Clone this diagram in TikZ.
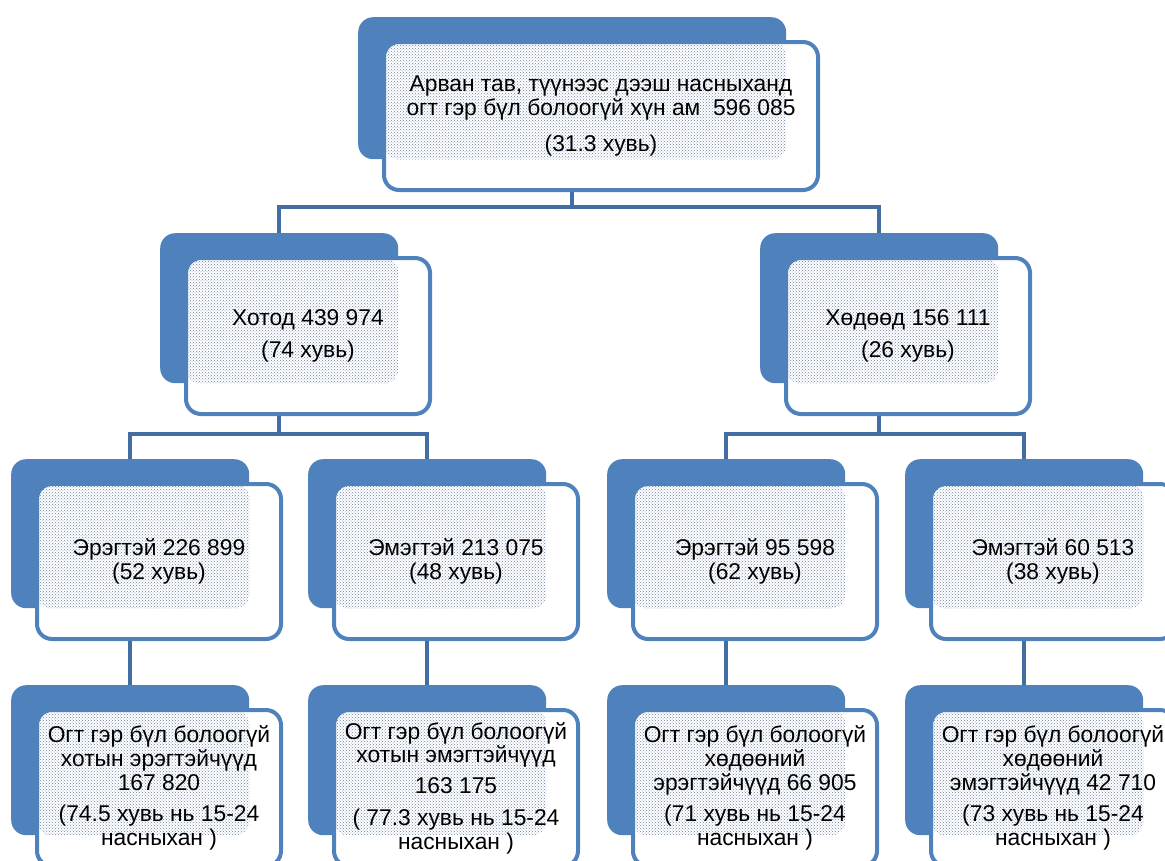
\documentclass[tikz,border=0pt]{standalone}
\usepackage{fontspec}
\setmainfont{Liberation Sans}
\usetikzlibrary{positioning,patterns,backgrounds,calc}

\definecolor{boxblue}{RGB}{79,129,189}
\definecolor{linkblue}{RGB}{66,110,164}
\definecolor{dotgray}{RGB}{112,132,168}

\tikzset{
    backbox/.style={fill=boxblue, rounded corners=15pt, inner sep=0pt, anchor=north west},
    frontbox/.style={draw=boxblue, line width=4pt, fill=white, rounded corners=15pt,
        inner sep=0pt, anchor=north west, align=center, text=black,
        font=\fontsize{22.8}{23.8}\selectfont},
    link/.style={draw=linkblue, line width=4.5pt}
}

\newcommand{\orgbox}[5]{%
    \node [backbox, minimum width={#3*1pt}, minimum height={#4*1pt}] (#1-back) at #2 {};
    \node [frontbox, minimum width={(#3+6)*1pt}, minimum height={(#4+6)*1pt},
        path picture={\fill [pattern=crosshatch dots, pattern color=dotgray, rounded corners=14pt]
            (path picture bounding box.north west) rectangle (#1-back.south east);}]
        (#1) at ($(#1-back.north west)+(24,23)$) {#5};
}

\begin{document}
\begin{tikzpicture}[x=1pt, y=-1pt]
    \useasboundingbox (0,0) rectangle (1165,860);
    \clip (0,0) rectangle (1165,860);

    \orgbox{top}{(358,17)}{428}{142}{Арван тав, түүнээс дээш насныханд\\огт гэр бүл болоогүй хүн ам\ \ 596 085\\[12pt](31.3 хувь)}

    \orgbox{city}{(160,233)}{238}{150}{Хотод 439 974\\[8pt](74 хувь)}
    \orgbox{rural}{(760,233)}{238}{150}{Хөдөөд 156 111\\[8pt](26 хувь)}

    \orgbox{cm}{(11,459)}{238}{149}{Эрэгтэй 226 899\\(52 хувь)}
    \orgbox{cf}{(308,459)}{238}{149}{Эмэгтэй 213 075\\(48 хувь)}
    \orgbox{rm}{(607,459)}{238}{149}{Эрэгтэй 95 598\\(62 хувь)}
    \orgbox{rf}{(905,459)}{238}{149}{Эмэгтэй 60 513\\(38 хувь)}

    \orgbox{cmo}{(11,685)}{238}{150}{Огт гэр бүл болоогүй\\хотын эрэгтэйчүүд\\167 820\\[8pt](74.5 хувь нь 15-24\\насныхан )}
    \orgbox{cfo}{(308,685)}{238}{150}{Огт гэр бүл болоогүй\\хотын эмэгтэйчүүд\\[7pt]163 175\\[8pt]( 77.3 хувь нь 15-24\\насныхан )}
    \orgbox{rmo}{(607,685)}{238}{150}{Огт гэр бүл болоогүй\\хөдөөний\\эрэгтэйчүүд 66 905\\[8pt](71 хувь нь 15-24\\насныхан )}
    \orgbox{rfo}{(905,685)}{238}{150}{Огт гэр бүл болоогүй\\хөдөөний\\эмэгтэйчүүд 42 710\\[8pt](73 хувь нь 15-24\\насныхан )}

    \coordinate (bus0) at (0,207);
    \coordinate (bus1) at (0,434);

    \begin{scope}[on background layer]
        \draw [link] (top-back.center) -- (top-back.center |- bus0) -| (city-back.center);
        \draw [link] (top-back.center |- bus0) -| (rural-back.center);
        \draw [link] (city-back.center) -- (city-back.center |- bus1) -| (cm-back.center);
        \draw [link] (city-back.center |- bus1) -| (cf-back.center);
        \draw [link] (rural-back.center) -- (rural-back.center |- bus1) -| (rm-back.center);
        \draw [link] (rural-back.center |- bus1) -| (rf-back.center);
        \draw [link] (cm-back.center) -- (cmo-back.center);
        \draw [link] (cf-back.center) -- (cfo-back.center);
        \draw [link] (rm-back.center) -- (rmo-back.center);
        \draw [link] (rf-back.center) -- (rfo-back.center);
    \end{scope}
\end{tikzpicture}
\end{document}
